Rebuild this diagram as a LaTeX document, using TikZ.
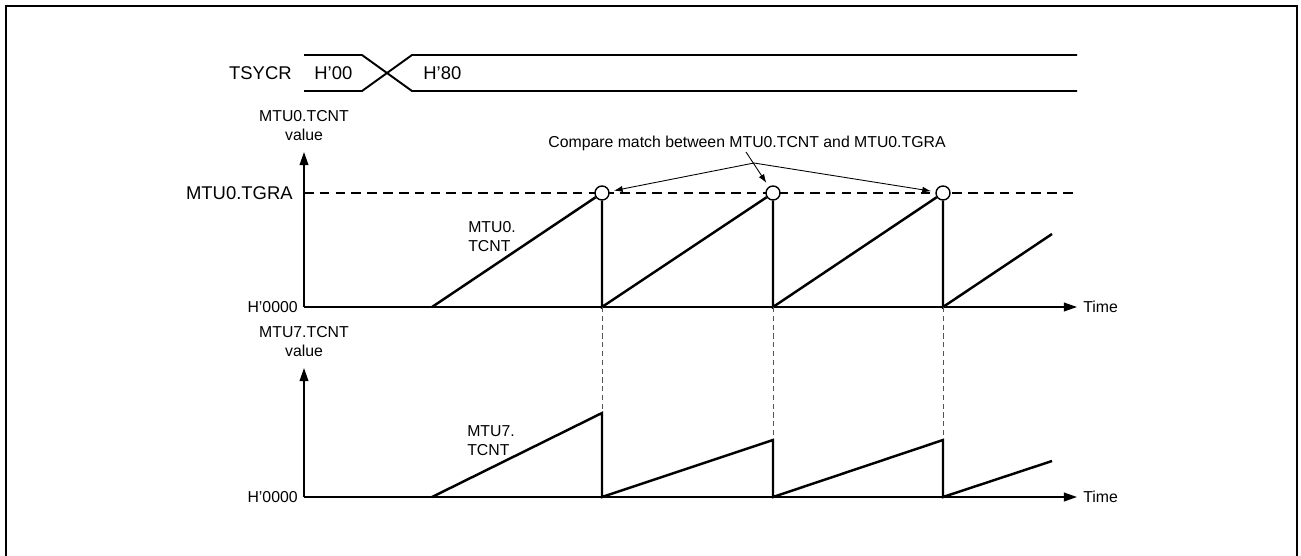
\documentclass[tikz,border=0pt]{standalone}
\usepackage{fontspec}
\setmainfont{Liberation Sans}
\usepackage{tikz}
\usetikzlibrary{
  arrows.meta,
  positioning
}
\definecolor{GuideGray}{HTML}{555555}
\tikzset{
  outerframe/.style={
    line width=1.1pt
  },
  bus/.style={
    line width=1.1pt
  },
  timeaxis/.style={
    line width=0.85pt,
    -{Triangle[length=7.5pt, width=5pt]}
  },
  tgraline/.style={
    line width=0.75pt,
    dash pattern=on 5.5pt off 3.5pt
  },
  ramp/.style={
    line width=1.4pt
  },
  marker/.style={
    circle,
    draw,
    fill=white,
    line width=0.8pt,
    minimum size=0.28cm,
    inner sep=0pt
  },
  guide/.style={
    line width=0.5pt,
    draw=GuideGray,
    dash pattern=on 3pt off 2pt
  },
  note/.style={
    line width=0.5pt,
    -{Latex[length=5pt, width=3.5pt]},
    shorten >=2.5pt
  },
  bigtext/.style={
    font=\fontsize{10.5}{12.5}\selectfont,
    inner sep=0pt
  },
  smalltext/.style={
    font=\fontsize{9}{10.8}\selectfont,
    inner sep=0pt,
    align=center
  }
}

\begin{document}
\begin{tikzpicture}[x=0.02cm, y=-0.02cm]

  \useasboundingbox (0,0) rectangle (1301,555);

  \draw[outerframe] (6,556) -- (6,6) -- (1297,6) -- (1297,556);

  \node[bigtext, anchor=east] (tsycr) at (292,73) {TSYCR};
  \node[bigtext, anchor=west] (hzero) at (314,73) {H’00};
  \node[bigtext, anchor=west] (heighty) at (423,73) {H’80};

  \draw[bus] (304,55) -- (362,55) -- (412,91) -- (1077,91);
  \draw[bus] (304,91) -- (362,91) -- (412,55) -- (1077,55);

  \coordinate (origin0) at (304,307);
  \coordinate (top0) at (304,152);
  \coordinate (end0) at (1077,307);
  \coordinate (tgrastart) at (304,193);

  \draw[timeaxis] (origin0) -- (top0);
  \draw[timeaxis] (origin0) -- (end0);

  \node[
    smalltext,
    above=0.22cm of top0
  ] (cnt0label) {
    MTU0.TCNT\\
    value
  };

  \node[
    smalltext,
    left=0.12cm of origin0
  ] (zero0) {H’0000};

  \node[
    smalltext,
    right=0.12cm of end0
  ] (time0) {Time};

  \node[
    bigtext,
    left=0.22cm of tgrastart
  ] (tgra) {MTU0.TGRA};

  \draw[tgraline] (tgrastart) -- (1077,193);

  \node[marker] (c1) at (602,193) {};
  \node[marker] (c2) at (773,193) {};
  \node[marker] (c3) at (943,193) {};

  \draw[ramp] (432,307) -- (c1);
  \draw[ramp] (c1) -- (602,307) -- (c2);
  \draw[ramp] (c2) -- (773,307) -- (c3);
  \draw[ramp] (c3) -- (943,307) -- (1052,234);

  \node[
    smalltext,
    align=left
  ] (cnt0name) at (492,237) {
    MTU0.\\
    TCNT
  };

  \node[smalltext] (compare) at (747,143) {Compare match between MTU0.TCNT and MTU0.TGRA};

  \coordinate (fork) at (754,163);
  \coordinate (comparefoot) at (746,152);

  \draw[note] (fork) -- (c1);
  \draw[note] (comparefoot) -- (c2);
  \draw[note] (fork) -- (c3);

  \coordinate (origin7) at (304,497);
  \coordinate (top7) at (304,368);
  \coordinate (end7) at (1077,497);

  \draw[timeaxis] (origin7) -- (top7);
  \draw[timeaxis] (origin7) -- (end7);

  \node[
    smalltext,
    above=0.22cm of top7
  ] (cnt7label) {
    MTU7.TCNT\\
    value
  };

  \node[
    smalltext,
    left=0.12cm of origin7
  ] (zero7) {H’0000};

  \node[
    smalltext,
    right=0.12cm of end7
  ] (time7) {Time};

  \coordinate (peak1) at (602,413);
  \coordinate (peak2) at (773,440);
  \coordinate (peak3) at (943,440);

  \draw[guide] (602,307) -- (peak1);
  \draw[guide] (773,307) -- (peak2);
  \draw[guide] (943,307) -- (peak3);

  \draw[ramp] (432,497) -- (peak1) -- (602,497) -- (peak2) -- (773,497) -- (peak3) -- (943,497) -- (1052,461);

  \node[
    smalltext,
    align=left
  ] (cnt7name) at (491,441) {
    MTU7.\\
    TCNT
  };

\end{tikzpicture}
\end{document}
